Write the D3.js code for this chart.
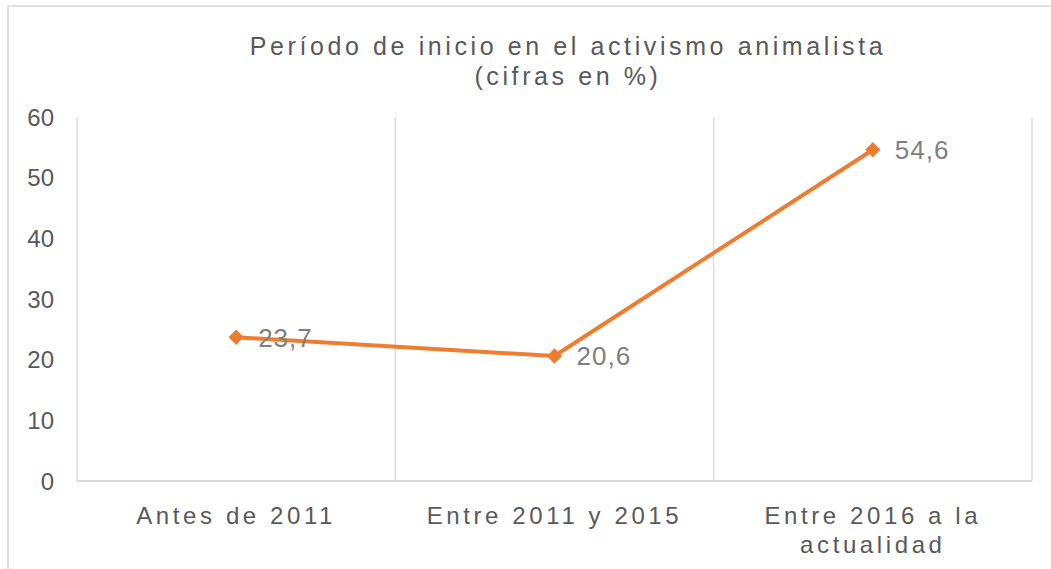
<!DOCTYPE html>
<html>
<head>
<meta charset="utf-8">
<script src="https://cdn.jsdelivr.net/npm/d3@7"></script>
<style>
  body { margin: 0; background: #fff; }
  text { font-family: "Liberation Sans", Arial, sans-serif; }
</style>
</head>
<body>
<svg id="chart" width="1051" height="569"></svg>
<script>
// data
var categories = ["Antes de 2011", "Entre 2011 y 2015", "Entre 2016 a la actualidad"];
var catLines = [["Antes de 2011"], ["Entre 2011 y 2015"], ["Entre 2016 a la", "actualidad"]];
var values = [23.7, 20.6, 54.6];
var valueLabels = ["23,7", "20,6", "54,6"];
var yTicks = [0, 10, 20, 30, 40, 50, 60];

var svg = d3.select("#chart");
var pLeft = 77, pRight = 1032, pTop = 117, pBottom = 481;

// outer frame
svg.append("rect")
  .attr("x", 8).attr("y", 6)
  .attr("width", 1060).attr("height", 600)
  .attr("fill", "none").attr("stroke", "#d9d9d9").attr("stroke-width", 1.5);

var x = d3.scaleBand().domain(categories).range([pLeft, pRight]);
var y = d3.scaleLinear().domain([0, 60]).range([pBottom, pTop]);

// vertical gridlines at category boundaries
var bounds = categories.map(function(c) { return x(c); }).concat([pRight]);
svg.selectAll(".vgrid").data(bounds).enter()
  .append("line")
  .attr("x1", function(d) { return d; }).attr("x2", function(d) { return d; })
  .attr("y1", pTop).attr("y2", pBottom)
  .attr("stroke", "#d9d9d9").attr("stroke-width", 1.3);

// baseline
svg.append("line")
  .attr("x1", pLeft).attr("x2", pRight)
  .attr("y1", pBottom).attr("y2", pBottom)
  .attr("stroke", "#d9d9d9").attr("stroke-width", 2);

// y tick labels
svg.selectAll(".ytick").data(yTicks).enter()
  .append("text")
  .attr("x", 54).attr("y", function(d) { return y(d); })
  .attr("dy", "0.36em")
  .attr("text-anchor", "end")
  .attr("font-size", 24).attr("fill", "#595959")
  .text(function(d) { return d; });

// category labels
var cx = function(c) { return x(c) + x.bandwidth() / 2; };
catLines.forEach(function(lines, i) {
  var t = svg.append("text")
    .attr("x", cx(categories[i])).attr("y", 524)
    .attr("text-anchor", "middle")
    .attr("font-size", 24).attr("fill", "#595959")
    .attr("letter-spacing", 3.6);
  lines.forEach(function(l, j) {
    t.append("tspan").attr("x", cx(categories[i])).attr("dy", j ? 29 : 0).text(l);
  });
});

// line
var pts = categories.map(function(c, i) { return [cx(c), y(values[i])]; });
svg.append("path")
  .attr("d", d3.line()(pts))
  .attr("fill", "none").attr("stroke", "#ed7d31")
  .attr("stroke-width", 4).attr("stroke-linejoin", "round");

// markers
svg.selectAll(".mk").data(pts).enter()
  .append("path")
  .attr("d", d3.symbol().type(d3.symbolDiamond2).size(150))
  .attr("transform", function(d) { return "translate(" + d[0] + "," + d[1] + ")"; })
  .attr("fill", "#ed7d31");

// data labels
svg.selectAll(".lbl").data(pts).enter()
  .append("text")
  .attr("x", function(d) { return d[0] + 22; })
  .attr("y", function(d) { return d[1]; })
  .attr("dy", "0.36em")
  .attr("font-size", 26).attr("fill", "#7f7f7f")
  .attr("letter-spacing", 1)
  .text(function(d, i) { return valueLabels[i]; });

// title
var title = svg.append("text")
  .attr("x", 568).attr("y", 55)
  .attr("text-anchor", "middle")
  .attr("font-size", 25).attr("fill", "#595959")
  .attr("letter-spacing", 3.6);
title.append("tspan").attr("x", 568).text("Período de inicio en el activismo animalista");
title.append("tspan").attr("x", 568).attr("dy", 30).text("(cifras en %)");
</script>
</body>
</html>
